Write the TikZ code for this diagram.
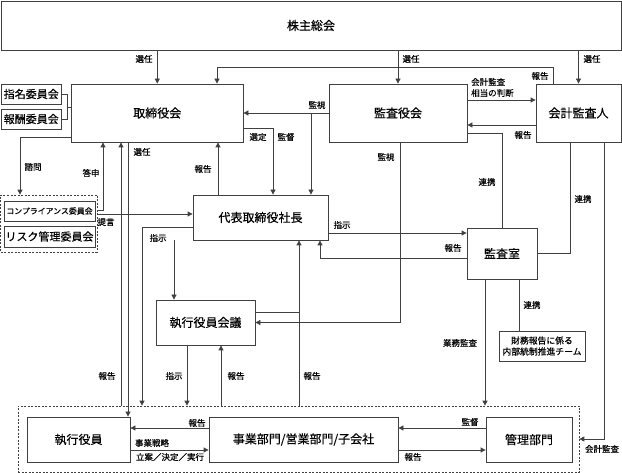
\documentclass[tikz,border=0pt]{standalone}
\usepackage{fontspec}
\setmainfont{Noto Sans CJK JP}[FakeBold=0.4]
\usetikzlibrary{arrows.meta}
\definecolor{linecol}{gray}{0.25}
\tikzset{
  box/.style={draw=linecol, line width=0.8pt, fill=white, inner sep=0pt, font=\fontsize{12}{14}\selectfont},
  grp/.style={draw=linecol, line width=0.7pt, dash pattern=on 2pt off 1.5pt, inner sep=0pt},
  lbl/.style={font=\fontsize{8.5}{10}\selectfont, inner sep=0pt},
  ln/.style={draw=linecol, line width=0.8pt},
  arr/.style={draw=linecol, line width=0.8pt, -{Triangle[length=5pt,width=5pt]}}
}
\begin{document}
\begin{tikzpicture}[x=1pt,y=-1pt]
\useasboundingbox (0,0) rectangle (622,473);
% groups
\node[grp, minimum width=96.5pt, minimum height=57pt] (compgrp) at (48.75,223.5) {};
\node[grp, minimum width=561pt, minimum height=66pt] (group) at (298.5,439) {};
% boxes
\node[box, minimum width=620pt, minimum height=49pt] (kabu) at (311,25.5) {株主総会};
\node[box, minimum width=171.5pt, minimum height=58pt] (tori) at (157.25,113) {取締役会};
\node[box, minimum width=60.5pt, minimum height=20pt, font=\fontsize{11}{12}\selectfont] (shimei) at (31.25,94) {指名委員会};
\node[box, minimum width=60.5pt, minimum height=20pt, font=\fontsize{11}{12}\selectfont] (hoshu) at (31.25,119) {報酬委員会};
\node[box, minimum width=138pt, minimum height=58pt] (kansa) at (398,113) {監査役会};
\node[box, minimum width=85pt, minimum height=58pt] (kaikei) at (578.5,113) {会計監査人};
\node[box, minimum width=91pt, minimum height=20pt, font=\fontsize{7.9}{9}\selectfont] (comp) at (49.5,211) {コンプライアンス委員会};
\node[box, minimum width=91pt, minimum height=21pt, font=\fontsize{11}{12}\selectfont] (risk) at (49.5,236.5) {リスク管理委員会};
\node[box, minimum width=135pt, minimum height=45pt] (daihyo) at (260.5,217.5) {代表取締役社長};
\node[box, minimum width=70pt, minimum height=51pt] (kansashitsu) at (502,253.5) {監査室};
\node[box, minimum width=86pt, minimum height=30pt, align=center, font=\fontsize{8.8}{11}\selectfont] (team) at (542,346) {財務報告に係る\\内部統制推進チーム};
\node[box, minimum width=99pt, minimum height=45pt] (kaigi) at (205.5,322.5) {執行役員会議};
\node[box, minimum width=103pt, minimum height=45pt] (shikko) at (78.5,439.5) {執行役員};
\node[box, minimum width=189pt, minimum height=45pt] (jigyo) at (303.5,439.5) {事業部門/営業部門/子会社};
\node[box, minimum width=86pt, minimum height=45pt] (kanri) at (529,439.5) {管理部門};
% connectors
\draw[arr] (kabu.south -| tori.north) -- (tori.north);
\draw[arr] (kabu.south -| kansa.north) -- (kansa.north);
\draw[arr] (kabu.south -| kaikei.north) -- (kaikei.north);
\draw[arr] (kaikei.north -| 553,0) -- (553,67) -| (tori.north -| 217,0);
\draw[ln] (shimei.east) -- (67.5,94) |- (hoshu.east);
\draw[ln] (67.5,107) -- (tori.west |- 0,107);
\draw[arr] (kansa.west) -- (tori.east);
\draw[arr] (311,113) -- (daihyo.north -| 311,0);
\draw[arr] (tori.east |- 0,128) -| (daihyo.north -| 273,0);
\draw[arr] (kansa.east |- 0,100) -- (kaikei.west |- 0,100);
\draw[arr] (kaikei.west |- 0,125) -- (kansa.east |- 0,125);
\draw[ln] (kansa.east |- 0,133) -| (kansashitsu.north);
\draw[arr] (kansa.south -| 400,0) |- (kaigi.east);
\draw[ln] (kaikei.south -| 570,0) |- (kansashitsu.east);
\draw[arr] (kaikei.south -| 604,0) |- (group.east);
\draw[arr] (tori.west |- 0,137) -| (compgrp.north -| 20,0);
\draw[arr] (compgrp.east |- 0,210) -| (tori.south -| 103,0);
\draw[arr] (compgrp.east |- 0,214) -- (daihyo.west |- 0,214);
\draw[arr] (group.north -| 121,0) -- (tori.south -| 121,0);
\draw[arr] (tori.south -| 128,0) -- (shikko.north -| 128,0);
\draw[arr] (daihyo.north -| 218,0) -- (tori.south -| 218,0);
\draw[arr] (daihyo.west |- 0,227) -| (group.north -| 142,0);
\draw[arr] (daihyo.south -| 174,0) -- (kaigi.north -| 174,0);
\draw[arr] (kaigi.south -| 187,0) -- (group.north -| 187,0);
\draw[arr] (group.north -| 221,0) -- (kaigi.south -| 221,0);
\draw[arr] (group.north -| 299,0) -- (daihyo.south -| 299,0);
\draw[ln] (kaigi.east |- 0,312) -- (299,312);
\draw[arr] (daihyo.east |- 0,233) -- (kansashitsu.west |- 0,233);
\draw[arr] (kansashitsu.west |- 0,258) -| (daihyo.south -| 320,0);
\draw[arr] (kansashitsu.south -| 485,0) -- (group.north -| 485,0);
\draw[ln] (kansashitsu.south -| 519,0) -- (team.north -| 519,0);
\draw[arr] (jigyo.west |- 0,428) -- (shikko.east |- 0,428);
\draw[arr] (shikko.east |- 0,450) -- (jigyo.west |- 0,450);
\draw[arr] (kanri.west |- 0,428) -- (jigyo.east |- 0,428);
\draw[arr] (jigyo.east |- 0,450) -- (kanri.west |- 0,450);
% labels
\node[lbl] (l1) at (144,59) {選任};
\node[lbl] (l2) at (411,59) {選任};
\node[lbl] (l3) at (592,59) {選任};
\node[lbl] (l4) at (540,76) {報告};
\node[lbl] (l5) at (317,105) {監視};
\node[lbl] (l6) at (258,137) {選定};
\node[lbl] (l7) at (286,137) {監督};
\node[lbl, anchor=west] (l8) at (471,82) {会計監査};
\node[lbl, anchor=west] (l9) at (471,93) {相当の判断};
\node[lbl] (l10) at (523,135) {報告};
\node[lbl] (l11) at (142,152) {選任};
\node[lbl] (l12) at (386,157) {監視};
\node[lbl] (l13) at (33,167) {諮問};
\node[lbl] (l14) at (91,173) {答申};
\node[lbl] (l15) at (203,169) {報告};
\node[lbl] (l16) at (487,182) {連携};
\node[lbl] (l17) at (583,199) {連携};
\node[lbl] (l18) at (106,222) {提言};
\node[lbl] (l19) at (158,238) {指示};
\node[lbl] (l20) at (342,225) {指示};
\node[lbl] (l21) at (453,248) {報告};
\node[lbl] (l22) at (532,305) {連携};
\node[lbl] (l23) at (460,343) {業務監査};
\node[lbl] (l24) at (107,376) {報告};
\node[lbl] (l25) at (174,376) {指示};
\node[lbl] (l26) at (236,376) {報告};
\node[lbl] (l27) at (312,376) {報告};
\node[lbl] (l28) at (197,423) {報告};
\node[lbl] (l29) at (152,443) {事業戦略};
\node[lbl] (l30) at (170,457) {立案／決定／実行};
\node[lbl] (l31) at (470,422) {監督};
\node[lbl] (l32) at (413,457) {報告};
\node[lbl] (l33) at (602,449) {会計監査};
\end{tikzpicture}
\end{document}
